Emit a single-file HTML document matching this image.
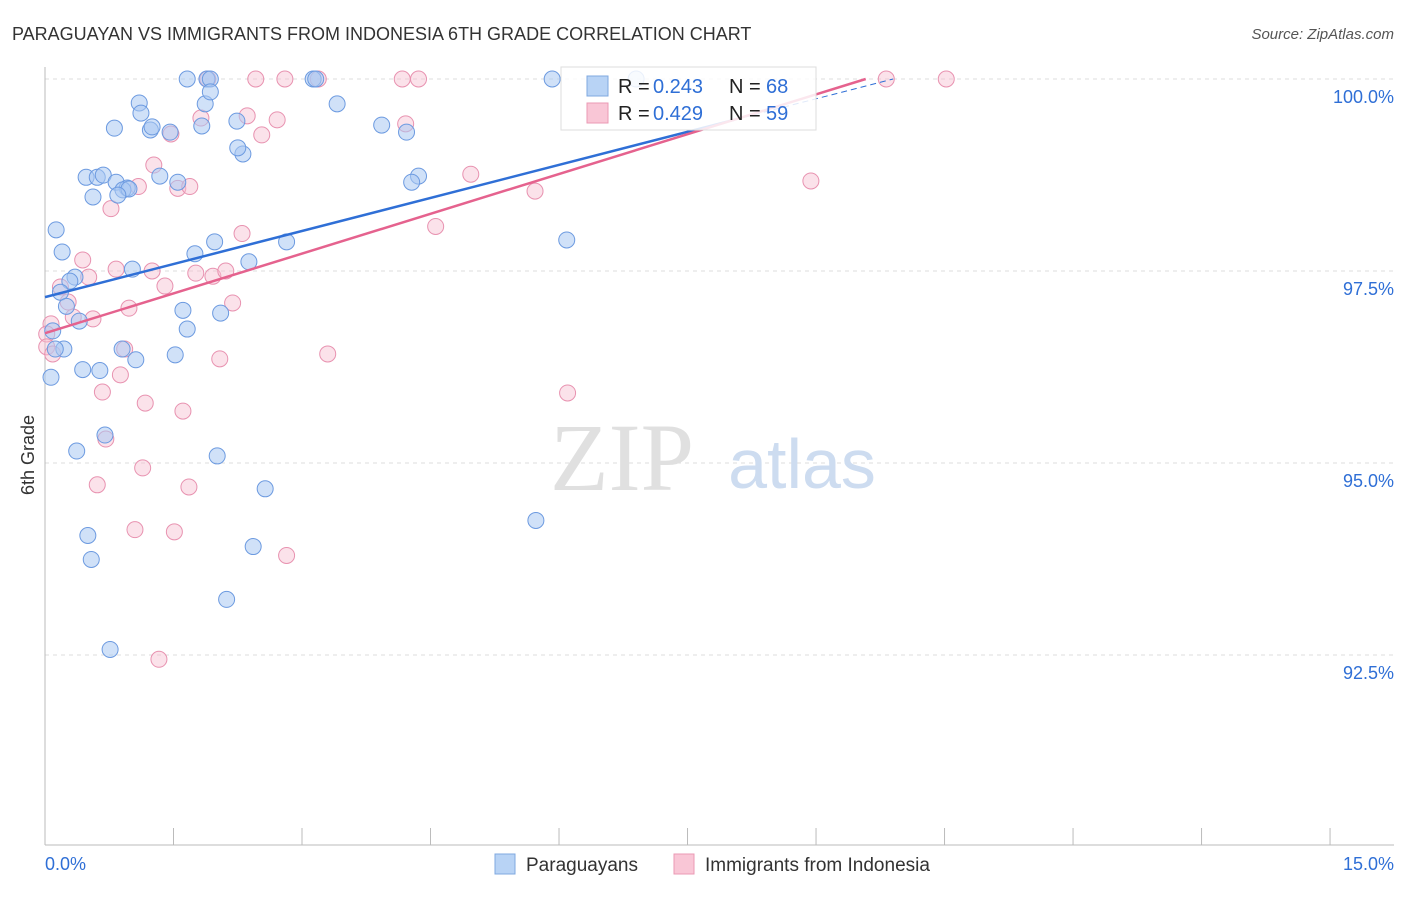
<!DOCTYPE html>
<html><head><meta charset="utf-8"><style>
body{margin:0;background:#fff;font-family:"Liberation Sans",sans-serif}
</style></head><body>
<svg width="1406" height="892" xmlns="http://www.w3.org/2000/svg" style="font-family:'Liberation Sans',sans-serif">
<text x="12" y="40" font-size="18" fill="#333">PARAGUAYAN VS IMMIGRANTS FROM INDONESIA 6TH GRADE CORRELATION CHART</text>
<text x="1394" y="39" font-size="15" fill="#555" text-anchor="end" font-style="italic">Source: ZipAtlas.com</text>
<g id="grid"></g>
<text x="622" y="490" font-size="96" fill="#e0e0e0" font-family="Liberation Serif" text-anchor="middle">ZIP</text>
<text x="802" y="488" font-size="70" fill="#cddcf0" text-anchor="middle">atlas</text>
<text transform="translate(34,455) rotate(-90)" font-size="18" fill="#333" text-anchor="middle">6th Grade</text>
<g id="pts"></g>
<g id="lines"></g>
<g>
<rect x="561" y="67" width="255" height="63" fill="#fff" fill-opacity="0.85" stroke="#ddd"/>
<rect x="587" y="76" width="21" height="20" fill="#b8d3f5" stroke="#7fa8e0"/>
<rect x="587" y="103" width="21" height="20" fill="#f9c6d6" stroke="#eb9ab4"/>
<text x="618" y="93" font-size="20" fill="#222">R =</text>
<text x="653" y="93" font-size="20" fill="#2f6fd6">0.243</text>
<text x="729" y="93" font-size="20" fill="#222">N =</text>
<text x="766" y="93" font-size="20" fill="#2f6fd6">68</text>
<text x="618" y="120" font-size="20" fill="#222">R =</text>
<text x="653" y="120" font-size="20" fill="#2f6fd6">0.429</text>
<text x="729" y="120" font-size="20" fill="#222">N =</text>
<text x="766" y="120" font-size="20" fill="#2f6fd6">59</text>
</g>
<g>
<rect x="495" y="854" width="20" height="20" fill="#b8d3f5" stroke="#7fa8e0"/>
<text x="526" y="871" font-size="19" fill="#333">Paraguayans</text>
<rect x="674" y="854" width="20" height="20" fill="#f9c6d6" stroke="#eb9ab4"/>
<text x="705" y="871" font-size="19" fill="#333">Immigrants from Indonesia</text>
</g>
<text x="45" y="870" font-size="18" fill="#2f6fd6">0.0%</text>
<text x="1394" y="870" font-size="18" fill="#2f6fd6" text-anchor="end">15.0%</text>
</svg>
<script>
const yTicks=[100,97.5,95,92.5];
const yTickLabels=["100.0%","97.5%","95.0%","92.5%"];
const xTicks=[0,1.5,3,4.5,6,7.5,9,10.5,12,13.5,15];
const blueX=[1.66,1.89,1.93,3.13,3.16,5.92,6.9,1.1,1.87,3.41,1.93,1.12,0.81,1.23,1.25,1.46,1.83,2.24,3.93,4.22,2.31,2.25,0.48,0.61,0.68,0.83,1.34,1.55,0.96,0.91,0.98,0.56,0.85,4.36,4.28,0.13,0.2,1.98,1.75,2.82,6.09,2.38,1.02,0.35,0.29,0.18,0.25,1.61,2.05,0.4,1.66,0.09,0.9,0.22,0.12,1.06,1.52,0.44,0.64,0.07,0.7,0.37,2.01,2.57,5.73,0.5,0.54,2.43,2.12,0.76];
const blueY=[100,100,100,100,100,100,100,99.688,99.676,99.676,99.832,99.556,99.36,99.336,99.376,99.308,99.388,99.452,99.4,99.308,99.024,99.104,98.72,98.72,98.748,98.656,98.736,98.656,98.58,98.556,98.568,98.464,98.488,98.736,98.656,98.036,97.748,97.88,97.724,97.88,97.904,97.62,97.524,97.42,97.368,97.224,97.04,96.988,96.952,96.848,96.744,96.72,96.484,96.484,96.484,96.344,96.408,96.216,96.204,96.116,95.364,95.156,95.092,94.664,94.252,94.056,93.744,93.912,93.224,92.572];
const pinkX=[1.9,2.46,2.8,3.19,4.17,4.36,9.82,10.52,2.36,2.71,1.82,1.47,2.53,4.21,1.27,4.97,8.94,5.72,1.09,1.55,1.69,0.77,4.56,2.3,0.44,0.83,1.25,0.51,1.76,1.96,2.11,1.4,0.18,0.27,2.19,0.98,0.33,0.56,0.07,0.02,0.02,0.09,0.93,3.3,2.04,0.88,0.67,6.1,1.17,1.61,0.71,1.14,0.61,1.68,1.05,1.51,2.82,1.33];
const pinkY=[100,100,100,100,100,100,100,100,99.52,99.468,99.492,99.284,99.272,99.416,98.88,98.76,98.672,98.54,98.6,98.576,98.6,98.312,98.08,97.988,97.644,97.524,97.5,97.42,97.472,97.432,97.5,97.304,97.292,97.096,97.084,97.016,96.9,96.876,96.812,96.68,96.512,96.42,96.484,96.42,96.356,96.148,95.924,95.912,95.78,95.676,95.312,94.936,94.716,94.688,94.132,94.104,93.796,92.444];
const blueLine=[0,97.16,8.05,99.47,9.9,100];
const pinkLine=[0,96.69,9.58,100];
const X=v=>45+v*85.67, Y=v=>79+(100-v)*76.8;
const NS="http://www.w3.org/2000/svg";
function mk(t,a,p){const e=document.createElementNS(NS,t);for(const k in a)e.setAttribute(k,a[k]);p.appendChild(e);return e;}
const g=document.getElementById('grid');
yTicks.forEach((t,i)=>{
 const l=mk('line',{x1:45,x2:1394,y1:Y(t),y2:Y(t),stroke:'#ddd','stroke-dasharray':'4,4'},g);
 
 
 const tx=mk('text',{x:1394,y:Y(t)+24,'font-size':18,fill:'#2f6fd6','text-anchor':'end'},g);
 tx.textContent=yTickLabels[i];
 
 
});
const ax=mk('line',{x1:45,x2:45,y1:67,y2:845,stroke:'#bbb'},g);


const bx=mk('line',{x1:45,x2:1394,y1:845,y2:845,stroke:'#bbb'},g);


xTicks.forEach(t=>{
 const l=mk('line',{x1:X(t),x2:X(t),y1:828,y2:845,stroke:'#bbb'},g);
 
 
});
const p=document.getElementById('pts');
pinkX.forEach((x,i)=>{
 const c=mk('circle',{cx:X(x),cy:Y(pinkY[i]),r:8,fill:'#f7bfd1','fill-opacity':0.45,stroke:'#e892b0','stroke-width':1},p);
 
 
});
blueX.forEach((x,i)=>{
 const c=mk('circle',{cx:X(x),cy:Y(blueY[i]),r:8,fill:'#a9c8f2','fill-opacity':0.55,stroke:'#6c9ae0','stroke-width':1},p);
 
 
});
const L=document.getElementById('lines');
const b1=mk('line',{x1:X(blueLine[0]),y1:Y(blueLine[1]),x2:X(blueLine[2]),y2:Y(blueLine[3]),stroke:'#2f6fd6','stroke-width':2.5},L);


const b2=mk('line',{x1:X(blueLine[2]),y1:Y(blueLine[3]),x2:X(blueLine[4]),y2:Y(blueLine[5]),stroke:'#2f6fd6','stroke-width':1,'stroke-dasharray':'6,4'},L);


const pl=mk('line',{x1:X(pinkLine[0]),y1:Y(pinkLine[1]),x2:X(pinkLine[2]),y2:Y(pinkLine[3]),stroke:'#e5628e','stroke-width':2.5},L);


</script>
</body></html>
